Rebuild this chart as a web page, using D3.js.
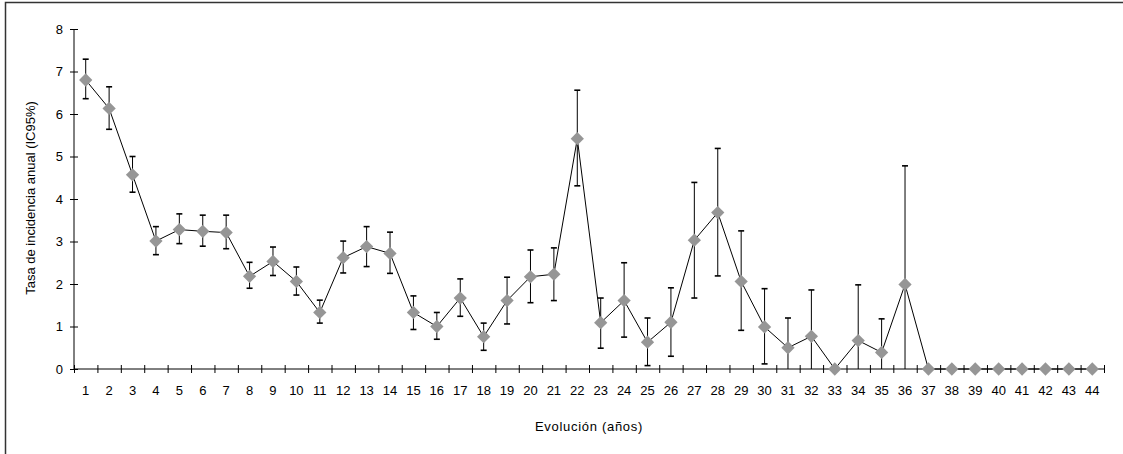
<!DOCTYPE html>
<html>
<head>
<meta charset="utf-8">
<script src="https://cdn.jsdelivr.net/npm/d3@7"></script>
<style>
  body { margin: 0; background: #fff; }
  svg { display: block; font-family: "Liberation Sans", Arial, sans-serif; }
</style>
</head>
<body>
<svg id="chart" width="1123" height="454"></svg>
<script>
// ******************** Data ************************
var years = d3.range(1, 45);
var rate = [6.80, 6.13, 4.57, 3.01, 3.28, 3.24, 3.21, 2.18, 2.53, 2.06,
            1.33, 2.62, 2.88, 2.72, 1.33, 1.00, 1.67, 0.76, 1.61, 2.17,
            2.23, 5.42, 1.09, 1.61, 0.63, 1.10, 3.03, 3.68, 2.06, 0.99,
            0.50, 0.77, 0.00, 0.67, 0.39, 1.99, 0, 0, 0, 0, 0, 0, 0, 0];
var ciLow = [6.36, 5.64, 4.16, 2.69, 2.95, 2.89, 2.83, 1.90, 2.20, 1.74,
             1.08, 2.26, 2.41, 2.25, 0.93, 0.70, 1.24, 0.44, 1.06, 1.56,
             1.61, 4.31, 0.49, 0.75, 0.08, 0.30, 1.67, 2.19, 0.91, 0.12,
             0, 0, 0, 0, 0, 0, 0, 0, 0, 0, 0, 0, 0, 0];
var ciHigh = [7.29, 6.64, 5.00, 3.35, 3.65, 3.62, 3.62, 2.51, 2.87, 2.40,
              1.62, 3.01, 3.35, 3.22, 1.72, 1.33, 2.12, 1.08, 2.16, 2.80,
              2.85, 6.56, 1.67, 2.50, 1.20, 1.91, 4.39, 5.19, 3.25, 1.89,
              1.20, 1.86, 0, 1.98, 1.18, 4.78, 0, 0, 0, 0, 0, 0, 0, 0];
var yTicks = [0, 1, 2, 3, 4, 5, 6, 7, 8];

var data = years.map(function (d, i) {
    return { year: d, v: rate[i], lo: ciLow[i], hi: ciHigh[i] };
});

// ******************** Scales ************************
var x = d3.scaleBand().domain(years).range([74, 1104]).padding(0);
var xEdge = d3.scaleLinear().domain([0, years.length]).range([74, 1104]);
var y = d3.scaleLinear().domain([0, 8]).range([369, 29]);
var cx = function (d) { return x(d.year) + x.bandwidth() / 2; };

var svg = d3.select("#chart");

// frame (only top and left edges visible in the picture)
svg.append("path")
    .attr("d", "M5.5,454 V2.5 H1123")
    .attr("fill", "none")
    .attr("stroke", "#333")
    .attr("stroke-width", 1.5);

// y axis
var gy = svg.append("g")
    .attr("transform", "translate(74,0)")
    .call(d3.axisLeft(y).tickValues(yTicks).tickSize(4).tickPadding(7));
gy.select(".domain").attr("d", "M0," + y(8) + "V" + y(0));
gy.selectAll(".tick line").attr("x1", -4).attr("x2", 4);
gy.selectAll("text").attr("font-size", 13).attr("fill", "#000").attr("font-family", null);

// x axis: ticks on category edges, labels in the middle
var gx = svg.append("g")
    .attr("transform", "translate(0,369)")
    .call(d3.axisBottom(xEdge).tickValues(d3.range(0, years.length + 1)).tickFormat("").tickSize(4));
gx.select(".domain").attr("d", "M74,0H1104");
gx.selectAll(".tick line").attr("y1", -4).attr("y2", 4);

svg.append("g")
    .selectAll("text")
    .data(years)
    .enter()
    .append("text")
    .attr("x", function (d) { return x(d) + x.bandwidth() / 2; })
    .attr("y", 395)
    .attr("text-anchor", "middle")
    .attr("font-size", 13)
    .text(function (d) { return d; });

// error bars
var gErr = svg.append("g").attr("stroke", "#000");
var withErr = data.filter(function (d) { return d.hi > d.lo; });
gErr.selectAll("line.bar")
    .data(withErr)
    .enter()
    .append("line")
    .attr("class", "bar")
    .attr("x1", cx).attr("x2", cx)
    .attr("y1", function (d) { return y(d.lo); })
    .attr("y2", function (d) { return y(d.hi); })
    .attr("stroke-width", 1);
gErr.selectAll("line.capHi")
    .data(withErr)
    .enter()
    .append("line")
    .attr("x1", function (d) { return cx(d) - 3; })
    .attr("x2", function (d) { return cx(d) + 3; })
    .attr("y1", function (d) { return y(d.hi); })
    .attr("y2", function (d) { return y(d.hi); })
    .attr("stroke-width", 1.6);
gErr.selectAll("line.capLo")
    .data(withErr.filter(function (d) { return d.lo > 0; }))
    .enter()
    .append("line")
    .attr("x1", function (d) { return cx(d) - 3; })
    .attr("x2", function (d) { return cx(d) + 3; })
    .attr("y1", function (d) { return y(d.lo); })
    .attr("y2", function (d) { return y(d.lo); })
    .attr("stroke-width", 1.6);

// line
var line = d3.line().x(cx).y(function (d) { return y(d.v); });
svg.append("path")
    .datum(data)
    .attr("d", line)
    .attr("fill", "none")
    .attr("stroke", "#000")
    .attr("stroke-width", 1);

// diamond markers
var diamond = d3.symbol().type(d3.symbolSquare).size(88);
svg.append("g")
    .selectAll("path")
    .data(data)
    .enter()
    .append("path")
    .attr("d", diamond)
    .attr("transform", function (d) { return "translate(" + cx(d) + "," + y(d.v) + ") rotate(45)"; })
    .attr("fill", "#969696");

// titles
svg.append("text")
    .attr("x", 589)
    .attr("y", 431)
    .attr("text-anchor", "middle")
    .attr("font-size", 13)
    .attr("letter-spacing", 0.7)
    .text("Evolución (años)");

svg.append("text")
    .attr("transform", "translate(35,198) rotate(-90)")
    .attr("text-anchor", "middle")
    .attr("font-size", 13)
    .text("Tasa de incidencia anual (IC95%)");
</script>
</body>
</html>
